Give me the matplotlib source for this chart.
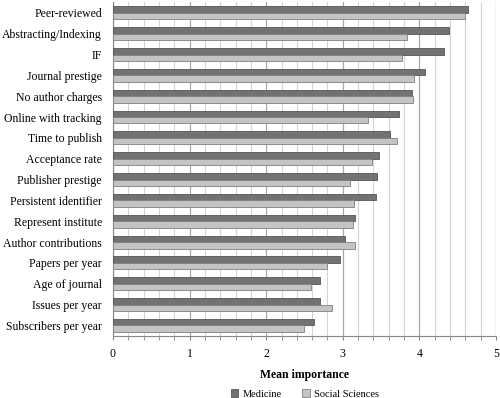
import matplotlib
matplotlib.use("Agg")
import matplotlib.pyplot as plt
import numpy as np
from matplotlib.patches import Patch

categories = ["Peer-reviewed", "Abstracting/Indexing", "IF", "Journal prestige",
              "No author charges", "Online with tracking", "Time to publish",
              "Acceptance rate", "Publisher prestige", "Persistent identifier",
              "Represent institute", "Author contributions", "Papers per year",
              "Age of journal", "Issues per year", "Subscribers per year"]
medicine = [4.64, 4.38, 4.32, 4.07, 3.90, 3.74, 3.61, 3.47, 3.45, 3.43,
            3.16, 3.03, 2.96, 2.70, 2.70, 2.62]
social = [4.59, 3.84, 3.77, 3.93, 3.92, 3.33, 3.71, 3.38, 3.10, 3.14,
          3.13, 3.16, 2.80, 2.59, 2.86, 2.49]
series_names = ["Medicine", "Social Sciences"]
xticks = [0, 1, 2, 3, 4, 5]

plt.rcParams['font.family'] = ['Liberation Serif', 'DejaVu Serif']

fig = plt.figure(figsize=(5.0, 3.98), dpi=100)
ax = fig.add_axes([0.226, 0.156, 0.766, 0.838])

n = len(categories)
y = np.arange(n)
h = 0.31
med_c, med_e = "#727272", "#555555"
soc_c, soc_e = "#c4c4c4", "#808080"
ax.barh(y - h / 2, medicine, height=h, color=med_c, edgecolor=med_e, linewidth=0.6, zorder=3)
ax.barh(y + h / 2, social, height=h, color=soc_c, edgecolor=soc_e, linewidth=0.6, zorder=3)

ax.set_ylim(n - 0.5, -0.5)
ax.set_xlim(0, 5)
ax.set_yticks(y)
ax.set_yticklabels(categories, fontsize=8.5)
ax.set_xticks(xticks)
ax.set_xticklabels([str(t) for t in xticks], fontsize=8.5)
ax.set_xticks(np.arange(0, 5.01, 0.2), minor=True)

ax.grid(axis='x', which='minor', color="#d4d4d4", linewidth=0.8, zorder=0)
ax.grid(axis='x', which='major', color="#a8a8a8", linewidth=0.9, zorder=0)
ax.set_axisbelow(True)

for s in ['top', 'right']:
    ax.spines[s].set_visible(False)
ax.spines['left'].set_color("#888888")
ax.spines['bottom'].set_color("#888888")
ax.tick_params(axis='y', length=0, pad=8)
ax.tick_params(axis='x', which='both', length=3, color="#888888", pad=6)

ax.set_xlabel("Mean importance", fontsize=8.5, fontweight='bold', labelpad=6)

handles = [Patch(facecolor=med_c, edgecolor=med_e, linewidth=0.6),
           Patch(facecolor=soc_c, edgecolor=soc_e, linewidth=0.6)]
fig.legend(handles, series_names, loc='lower center', bbox_to_anchor=(0.61, -0.025),
           ncol=2, frameon=False, fontsize=7.5, handlelength=0.7, handleheight=0.7,
           handletextpad=0.4, columnspacing=2.0)

fig.savefig("out.png", dpi=100)
